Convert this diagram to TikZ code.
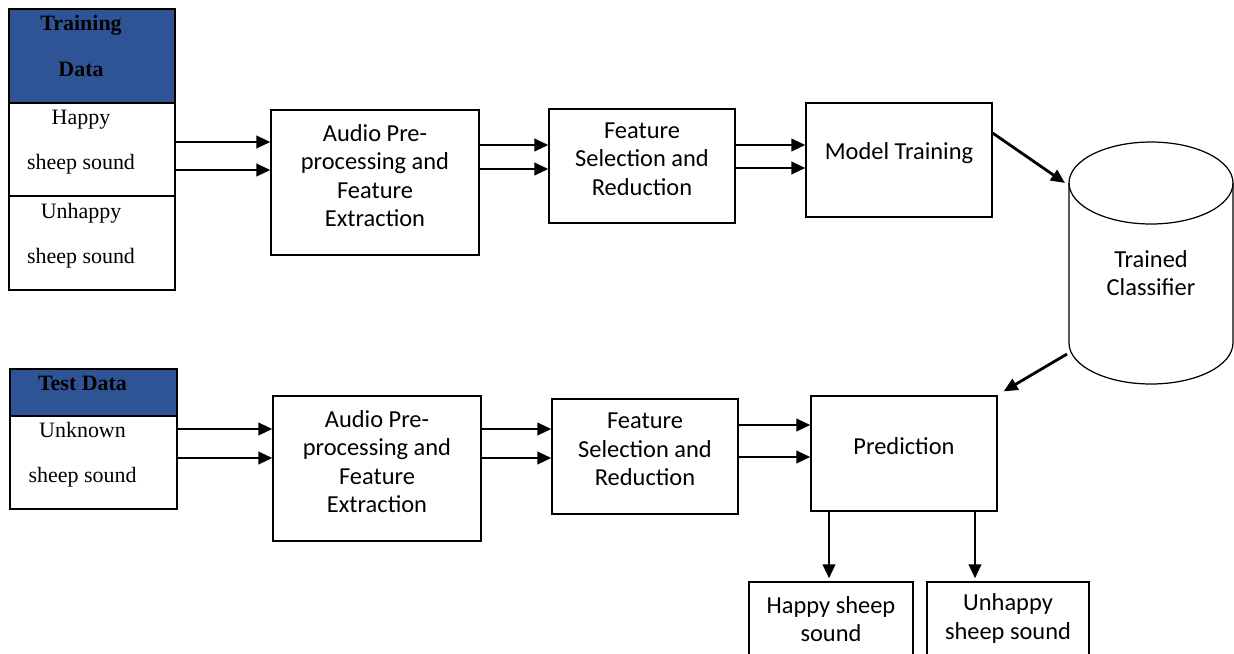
\documentclass[tikz,border=0pt]{standalone}
\usepackage{fontspec}
\setmainfont{Carlito}
\newfontfamily\tnr{Liberation Serif}
\usepackage{xcolor}
\usetikzlibrary{arrows.meta,calc,positioning}
\definecolor{hdrblue}{RGB}{47,84,150}
\newcommand{\padr}{\hspace*{12.5pt}}

\begin{document}
\begin{tikzpicture}[x=0.02cm,y=-0.02cm,
  every node/.style={font=\fontsize{13.9}{16.2}\selectfont},
  box/.style={draw=black,line width=0.7pt,fill=white,align=center,inner sep=0pt,text depth=8pt},
  dbox/.style={box,font=\tnr\fontsize{12.5}{25.5}\selectfont,text depth=11pt},
  hdr/.style={dbox,fill=hdrblue,font=\tnr\bfseries\fontsize{12.5}{26}\selectfont},
  arr/.style={-{Triangle[length=8pt,width=7pt]},line width=1.6pt}]
  \useasboundingbox (0,0) rectangle (1234,653);
  \clip (0,0) rectangle (1234,653);

  % training data column
  \node[hdr,minimum width=3.32cm,minimum height=1.88cm,text depth=11.4pt] (trhd) at (92,56) {Training\padr\\Data\padr};
  \node[dbox,minimum width=3.32cm,minimum height=1.86cm] (hap) at (92,149.5) {Happy\padr\\sheep sound\padr};
  \node[dbox,minimum width=3.32cm,minimum height=1.88cm] (unh) at (92,243) {Unhappy\padr\\sheep sound\padr};

  % test data column
  \node[hdr,minimum width=3.34cm,minimum height=0.94cm,text depth=10.2pt] (tshd) at (93.5,392.5) {Test Data\padr};
  \node[dbox,minimum width=3.34cm,minimum height=1.86cm,text depth=11.7pt] (unk) at (93.5,462.5) {Unknown\padr\\sheep sound\padr};

  % training pipeline
  \node[box,minimum width=4.16cm,minimum height=2.9cm] (aud1) at (375,182.5) {Audio Pre-\\processing and\\Feature\\Extraction};
  \node[box,minimum width=3.72cm,minimum height=2.28cm] (feat1) at (642,166) {Feature\\Selection and\\Reduction};
  \node[box,minimum width=3.72cm,minimum height=2.28cm,text depth=10.6pt] (model) at (899,160) {Model Training};

  % test pipeline
  \node[box,minimum width=4.16cm,minimum height=2.9cm] (aud2) at (377,468.5) {Audio Pre-\\processing and\\Feature\\Extraction};
  \node[box,minimum width=3.72cm,minimum height=2.3cm] (feat2) at (645,456.5) {Feature\\Selection and\\Reduction};
  \node[box,minimum width=3.72cm,minimum height=2.3cm,text depth=9pt] (pred) at (904,453.5) {Prediction};

  % outputs
  \node[box,minimum width=3.28cm,minimum height=1.48cm,text depth=0pt] (out1) at (831,619) {Happy sheep\\sound};
  \node[box,minimum width=3.24cm,minimum height=1.48cm,text depth=2.7pt] (out2) at (1008,619) {Unhappy\\sheep sound};

  % classifier store
  \draw[line width=0.7pt] (1069,183) -- (1069,343)
    arc[start angle=180,end angle=360,x radius=1.64cm,y radius=0.82cm] -- (1233,183);
  \draw[line width=0.7pt] (1151,183) ellipse[x radius=1.64cm,y radius=0.82cm];
  \node[align=center] (clf) at (1151,273) {Trained\\Classifier};
  \coordinate (clfin) at (1065,183);
  \coordinate (clfout) at (1067,354);

  % connectors
  \foreach \yy in {142,170} \draw[arr] (hap.east |- 0,\yy) -- (aud1.west |- 0,\yy);
  \foreach \yy in {145,169} \draw[arr] (aud1.east |- 0,\yy) -- (feat1.west |- 0,\yy);
  \foreach \yy in {145,168} \draw[arr] (feat1.east |- 0,\yy) -- (model.west |- 0,\yy);
  \foreach \yy in {429,458} \draw[arr] (unk.east |- 0,\yy) -- (aud2.west |- 0,\yy);
  \foreach \yy in {429,458} \draw[arr] (aud2.east |- 0,\yy) -- (feat2.west |- 0,\yy);
  \foreach \yy in {425,457} \draw[arr] (feat2.east |- 0,\yy) -- (pred.west |- 0,\yy);
  \draw[arr] (model.east |- 0,133) -- (clfin);
  \draw[arr] (clfout) -- ([xshift=0.12cm,yshift=0.08cm]pred.north east);
  \draw[arr] (pred.south -| 829,0) -- ([yshift=0.06cm]out1.north -| 829,0);
  \draw[arr] (pred.south -| 975,0) -- ([yshift=0.06cm]out2.north -| 975,0);
\end{tikzpicture}
\end{document}
